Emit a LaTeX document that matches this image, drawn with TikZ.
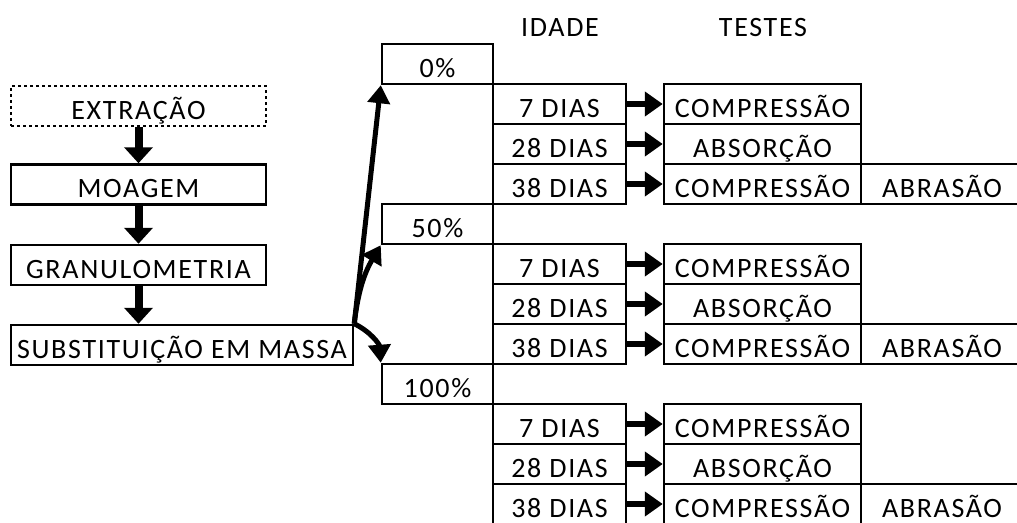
\documentclass[tikz,border=0pt]{standalone}
\usepackage{fontspec}
\setmainfont{Carlito}[LetterSpace=6]
\usetikzlibrary{arrows.meta}

\begin{document}
\begin{tikzpicture}[x=1pt, y=-1pt,
  texto/.style={font=\fontsize{28}{30}\selectfont},
  caixa/.style={texto, draw=black, line width=2.5pt, minimum height=40pt, inner sep=0pt,
    text height=28pt, text depth=2pt},
  etapa/.style={caixa, minimum width=255pt},
  perc/.style={caixa, minimum width=111pt},
  idade/.style={caixa, minimum width=133pt},
  teste/.style={caixa, minimum width=197pt},
  extra/.style={caixa, minimum width=162pt},
  setagrossa/.style={line width=8pt, -{Triangle[width=28pt,length=16pt]}},
  setamedia/.style={line width=6pt, -{Triangle[width=24pt,length=18pt]}},
  setafina/.style={line width=5pt, -{Triangle[width=22pt,length=18pt]}}]

  \useasboundingbox (0,0) rectangle (1017,522);

  % 1. Etapas do processo
  \node[etapa, line width=1.3pt, dash pattern=on 3pt off 3pt] (extr) at (138.5,106) {EXTRAÇÃO};
  \node[etapa] (moag) at (138.5,184.5) {MOAGEM};
  \node[etapa] (gran) at (138.5,265) {GRANULOMETRIA};
  \node[caixa, minimum width=342pt] (subst) at (182,345) {SUBSTITUIÇÃO EM MASSA};

  \draw[setagrossa] (extr) -- (moag);
  \draw[setagrossa] (moag) -- (gran);
  \draw[setagrossa] (gran) -- (gran.south |- subst.north);

  % 2. Teores de substituição
  \node[perc] (p0) at (437.5,64) {0\%};
  \node[perc] (p50) at (437.5,224) {50\%};
  \node[perc] (p100) at (437.5,384) {100\%};

  \draw[setafina] (subst.north east) -- (p0.south west);
  \draw[setafina] (subst.north east) to[bend left=12] (p50.south west);
  \draw[setafina] (subst.north east) to[bend left=30] (p100.north west);

  % 3. Cabeçalhos
  \node[texto] (hidade) at (560,28) {IDADE};
  \node[texto] (htestes) at (763,28) {TESTES};

  % 4. Idades e testes -- 0%
  \node[idade] (a1) at (559.5,104) {7 DIAS};
  \node[idade] (a2) at (559.5,144) {28 DIAS};
  \node[idade] (a3) at (559.5,184) {38 DIAS};
  \node[teste] (c1) at (762.5,104) {COMPRESSÃO};
  \node[teste] (c2) at (762.5,144) {ABSORÇÃO};
  \node[teste] (c3) at (762.5,184) {COMPRESSÃO};
  \node[extra] (r3) at (942,184) {ABRASÃO};
  \draw[setamedia] (a1) -- (c1);
  \draw[setamedia] (a2) -- (c2);
  \draw[setamedia] (a3) -- (c3);

  % 5. Idades e testes -- 50%
  \node[idade] (b1) at (559.5,264) {7 DIAS};
  \node[idade] (b2) at (559.5,304) {28 DIAS};
  \node[idade] (b3) at (559.5,344) {38 DIAS};
  \node[teste] (d1) at (762.5,264) {COMPRESSÃO};
  \node[teste] (d2) at (762.5,304) {ABSORÇÃO};
  \node[teste] (d3) at (762.5,344) {COMPRESSÃO};
  \node[extra] (s3) at (942,344) {ABRASÃO};
  \draw[setamedia] (b1) -- (d1);
  \draw[setamedia] (b2) -- (d2);
  \draw[setamedia] (b3) -- (d3);

  % 6. Idades e testes -- 100%
  \node[idade] (e1) at (559.5,424) {7 DIAS};
  \node[idade] (e2) at (559.5,464) {28 DIAS};
  \node[idade] (e3) at (559.5,504) {38 DIAS};
  \node[teste] (f1) at (762.5,424) {COMPRESSÃO};
  \node[teste] (f2) at (762.5,464) {ABSORÇÃO};
  \node[teste] (f3) at (762.5,504) {COMPRESSÃO};
  \node[extra] (u3) at (942,504) {ABRASÃO};
  \draw[setamedia] (e1) -- (f1);
  \draw[setamedia] (e2) -- (f2);
  \draw[setamedia] (e3) -- (f3);

\end{tikzpicture}
\end{document}
